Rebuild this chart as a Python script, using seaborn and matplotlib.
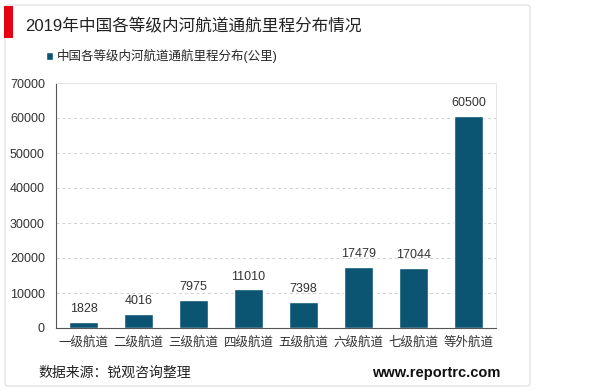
import matplotlib
matplotlib.use('Agg')
import matplotlib.pyplot as plt
import seaborn as sns
import pandas as pd
from matplotlib.patches import FancyBboxPatch, Rectangle

categories = ['一级航道', '二级航道', '三级航道', '四级航道', '五级航道', '六级航道', '七级航道', '等外航道']
mileage = [1828, 4016, 7975, 11010, 7398, 17479, 17044, 60500]
series_name = '中国各等级内河航道通航里程分布(公里)'
title = '2019年中国各等级内河航道通航里程分布情况'
yticks = [0, 10000, 20000, 30000, 40000, 50000, 60000, 70000]

df = pd.DataFrame({'cat': categories, 'val': mileage})

sns.set_style('white')
plt.rcParams['font.family'] = ['Liberation Sans', 'Noto Sans CJK SC', 'DejaVu Sans']

bar_color = '#0b5573'
fig = plt.figure(figsize=(6, 3.91), dpi=100)

# card background behind everything
card = FancyBboxPatch((5 / 600, 5 / 391), 525 / 600, 381 / 391, boxstyle='round,pad=0,rounding_size=0.006',
                      transform=fig.transFigure, facecolor='white', edgecolor='#dcdcdc', lw=0.8, zorder=-10)
fig.patches.append(card)
fig.patches.append(Rectangle((4 / 600, 1 - 38 / 391), 9 / 600, 32 / 391, transform=fig.transFigure,
                             facecolor='#e60012', edgecolor='none', zorder=-5))

ax = fig.add_axes([56 / 600, 1 - 328 / 391, 440 / 600, 245 / 391])
ax.patch.set_alpha(0)
sns.barplot(data=df, x='cat', y='val', color=bar_color, width=0.52, saturation=1, ax=ax,
            label=series_name)

ax.set_ylim(0, 70000)
ax.set_yticks(yticks)
ax.set_yticklabels([str(v) for v in yticks])
ax.set_xlabel('')
ax.set_ylabel('')
ax.tick_params(axis='both', labelsize=9, colors='#333333', length=0)
ax.tick_params(axis='x', pad=6)
ax.tick_params(axis='y', pad=8)
ax.yaxis.grid(True, linestyle=(0, (3, 3)), color='#d0d0d0', lw=0.7)
ax.set_axisbelow(True)
for side in ['top', 'right']:
    ax.spines[side].set_color('#e6e6e6')
    ax.spines[side].set_linewidth(0.7)
ax.spines['left'].set_color('#555555')
ax.spines['bottom'].set_color('#555555')

for c in ax.containers:
    ax.bar_label(c, fmt='%d', padding=5, fontsize=9, color='#333333')

ax.legend(loc='lower left', bbox_to_anchor=(-0.035, 1.06), frameon=False, fontsize=9,
          handlelength=0.6, handleheight=0.6, handletextpad=0.3, borderaxespad=0)

fig.text(25 / 600, 1 - 26 / 391, title, fontsize=12, color='#222222', va='center')
fig.text(38 / 600, 1 - 373 / 391, '数据来源：锐观咨询整理', fontsize=10, color='#222222', va='center')
fig.text(500 / 600, 1 - 373 / 391, 'www.reportrc.com', fontsize=10.5, fontweight='bold',
         color='#111111', va='center', ha='right')

fig.savefig('out.png', dpi=100)
